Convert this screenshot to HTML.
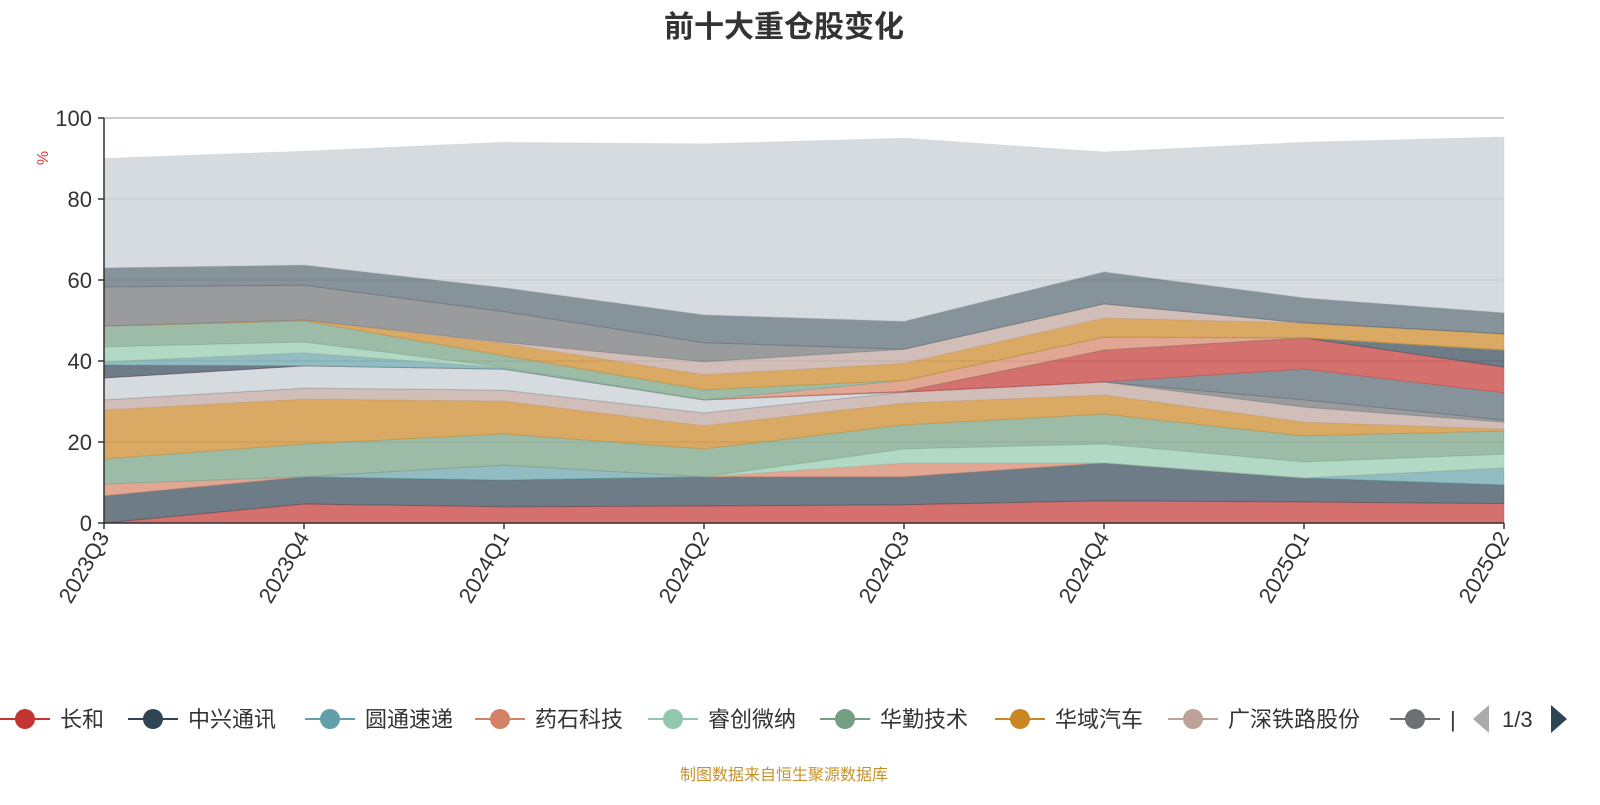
<!DOCTYPE html>
<html><head><meta charset="utf-8">
<style>
html,body{margin:0;padding:0;background:#fff;}
body{width:1600px;height:800px;overflow:hidden;font-family:"Liberation Sans","Noto Sans CJK SC",sans-serif;}
</style></head>
<body>
<svg id="chart" width="1600" height="800" xmlns="http://www.w3.org/2000/svg" style="font-family:'Liberation Sans','Noto Sans CJK SC',sans-serif">
  <text x="784" y="37" text-anchor="middle" font-size="30" font-weight="bold" fill="#333">前十大重仓股变化</text>
  <text x="48" y="158" font-size="16" fill="#e33" transform="rotate(-90 48 158)" text-anchor="middle">%</text>
  <g id="grid"></g>
  <g id="areas"></g>
  <g id="axes"></g>
  <g id="legend"></g>
  <text x="784" y="780" text-anchor="middle" font-size="16" fill="#c8922a">制图数据来自恒生聚源数据库</text>
</svg>
<script>
const categories = ["2023Q3","2023Q4","2024Q1","2024Q2","2024Q3","2024Q4","2025Q1","2025Q2"];
const yTicks = [0,20,40,60,80,100];
const seriesNames = ["长和","中兴通讯","圆通速递","药石科技","睿创微纳","华勤技术","华域汽车","广深铁路股份","广发证券","股票10","股票11","股票12","股票13","股票14","股票15","股票16","股票17","股票18","股票19","股票20","股票21","其他"];
const s0 = [0,4.7,4,4.2,4.5,5.5,5.2,4.8];
const s1 = [6.7,6.7,6.6,7.2,6.9,9.3,5.9,4.6];
const s2 = [0,0,3.7,0,0,0,0,4.2];
const s3 = [2.9,0,0,0,3.4,0,0,0];
const s4 = [0,0,0,0,3.5,4.7,4,3.4];
const s5 = [6.2,8.1,7.7,6.9,5.9,7.4,6.4,5.7];
const s6 = [12.1,11.1,8.1,5.7,5.4,4.7,3.4,0.5];
const s7 = [2.5,2.7,2.7,3.2,2.7,3.2,3.7,1.7];
const s8 = [0,0,0,0,0,0,1.8,0.5];
const s9 = [0,0,0,0,0,0,7.6,6.7];
const s10 = [5.4,5.5,5.2,3.2,0,0,0,0];
const s11 = [0,0,0,0,0.2,7.9,7.7,6.4];
const s12 = [3.2,0,0,0,0,0,0,4.2];
const s13 = [0.8,3.2,0.3,0,0,0,0,0];
const s14 = [0,0,0,0,2.7,3.2,0,0];
const s15 = [3.7,2.7,0.2,0,0,0,0,0];
const s16 = [5.1,5.2,2.8,2.5,0,0,0,0];
const s17 = [0,0.2,3,3.7,4.2,4.7,3.7,4];
const s18 = [0,0,0.3,3.2,3.5,3.5,0,0];
const s19 = [9.7,8.6,7.6,4.7,0,0,0,0];
const s20 = [4.7,5,5.9,6.9,6.9,7.9,6.2,5.2];
const s21 = [27,28.1,35.9,42.2,45.2,29.6,38.4,43.4];
const seriesValues = [s0,s1,s2,s3,s4,s5,s6,s7,s8,s9,s10,s11,s12,s13,s14,s15,s16,s17,s18,s19,s20,s21];
const palette = ['#c23531','#2f4554','#61a0a8','#d48265','#91c7ae','#749f83','#ca8622','#bda29a','#6e7074','#546570','#c4ccd3'];

const NS = "http://www.w3.org/2000/svg";
const X0 = 104, X1 = 1504, Y0 = 523, Y1 = 118;
function xScale(i){ return X0 + i*(X1-X0)/(categories.length-1); }
function yScale(v){ return Y0 - v*(Y0-Y1)/100; }
function mk(tag, attrs, parent){ const e=document.createElementNS(NS,tag); for(const k in attrs) e.setAttribute(k,attrs[k]); parent.appendChild(e); return e; }

const grid = document.getElementById('grid');
yTicks.forEach(t=>{
  const l = mk('line',{x1:X0,x2:X1,y1:yScale(t),y2:yScale(t),stroke:t===100?'#bbb':'#ddd','stroke-width':1.5},grid);
  
  
});

const areas = document.getElementById('areas');
let base = categories.map(()=>0);
seriesValues.forEach((vals,si)=>{
  const top = vals.map((v,i)=>base[i]+v);
  let d = 'M'+top.map((v,i)=>xScale(i)+','+yScale(v)).join(' L');
  for(let i=categories.length-1;i>=0;i--) d += ' L'+xScale(i)+','+yScale(base[i]);
  d += ' Z';
  const col = palette[si%palette.length];
  const p = mk('path',{d:d,fill:col,'fill-opacity':0.7,stroke:col,'stroke-opacity':0.35,'stroke-width':1},areas);
  
  
  base = top;
});

const axes = document.getElementById('axes');
mk('line',{x1:X0,x2:X0,y1:Y1,y2:Y0,stroke:'#333','stroke-width':1.5},axes);
mk('line',{x1:X0,x2:X1,y1:Y0,y2:Y0,stroke:'#333','stroke-width':1.5},axes);
yTicks.forEach(t=>{
  mk('line',{x1:X0-6,x2:X0,y1:yScale(t),y2:yScale(t),stroke:'#333','stroke-width':1.5},axes);
  const tx = mk('text',{x:X0-12,y:yScale(t)+8,'text-anchor':'end','font-size':22,fill:'#333'},axes);
  tx.textContent = t;
  
  
});
categories.forEach((c,i)=>{
  const x = xScale(i);
  mk('line',{x1:x,x2:x,y1:Y0,y2:Y0+6,stroke:'#333','stroke-width':1.5},axes);
  const tx = mk('text',{x:x+6,y:Y0+14,'text-anchor':'end','font-size':22,fill:'#333',transform:'rotate(-60 '+(x+6)+' '+(Y0+14)+')'},axes);
  tx.textContent = c;
  
  
});

const legend = document.getElementById('legend');
const legX = [0,128,305,475,648,820,995,1168,1390];
const LY = 719;
legX.forEach((lx,i)=>{
  const g = mk('g',{},legend);
  
  
  const col = palette[i%palette.length];
  mk('line',{x1:lx,x2:lx+50,y1:LY,y2:LY,stroke:col,'stroke-width':2},g);
  mk('circle',{cx:lx+25,cy:LY,r:10,fill:col},g);
  const t = mk('text',{x:lx+60,y:LY+8,'font-size':22,fill:'#333'},g);
  t.textContent = i<8 ? seriesNames[i] : '';
});
const clip = mk('text',{x:1450,y:LY+8,'font-size':22,fill:'#333'},legend);
clip.textContent = '|';
const prev = mk('polygon',{points:'1489,705 1489,733 1473,719',fill:'#aaa'},legend);


const pg = mk('text',{x:1502,y:LY+8,'font-size':22,fill:'#333'},legend);
pg.textContent = '1/3';


const next = mk('polygon',{points:'1551,705 1551,733 1567,719',fill:'#2f4554'},legend);


</script>
</body></html>
